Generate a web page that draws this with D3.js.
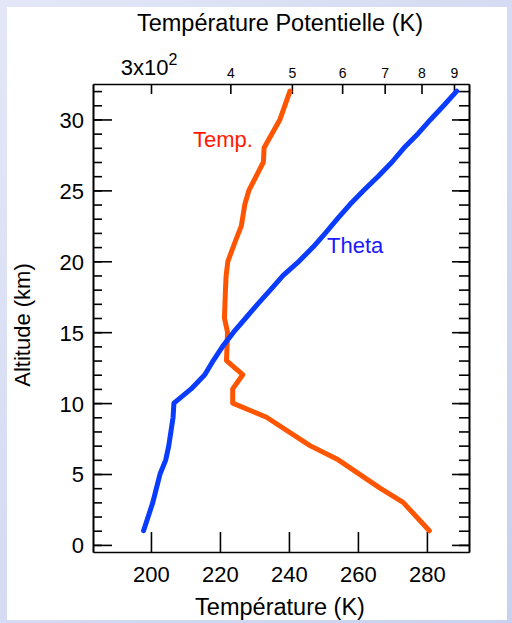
<!DOCTYPE html>
<html>
<head>
<meta charset="utf-8">
<script src="https://cdn.jsdelivr.net/npm/d3@7"></script>
<style>
  body { margin: 0; }
  svg { display: block; font-family: "Liberation Sans", Arial, sans-serif; }
</style>
</head>
<body>
<svg id="chart" width="512" height="623"></svg>
<script>
// temperature profile (K) against altitude (km)
const tempAlt = [1, 3, 4, 6, 7, 9, 10, 11, 12, 13, 15, 16, 18, 19, 20, 21.5, 22.5, 24, 25, 27, 28, 30, 32];
const tempK = [280.7, 273.1, 266.4, 254.3, 246.1, 233.5, 223.7, 223.7, 226.6, 221.9, 222.2, 221.3, 221.6, 221.8, 222.3, 224.6, 226.2, 227.2, 228.4, 232.6, 232.8, 237.4, 240.3];

// potential temperature (K) against altitude (km)
const thetaAlt = [1, 2, 3, 4, 5, 6, 7, 8, 9, 10, 11, 12, 13, 14, 15, 16, 17, 18, 19, 20, 21, 22, 23, 24, 25, 26, 27, 28, 29, 30, 31, 32];
const thetaK = [292, 297, 302, 306, 310, 316.5, 320, 322.5, 325, 326, 347, 364.6, 376, 389, 404.7, 423, 442, 463, 484.5, 513, 540, 565, 590, 617, 649, 684, 719, 751, 790, 827, 868, 909];

const tempTicks = [200, 220, 240, 260, 280];
const thetaTicks = [300, 400, 500, 600, 700, 800, 900];
const thetaLabels = ["", "4", "5", "6", "7", "8", "9"];

const svg = d3.select("#chart");

// page background and white panel
const grad = svg.append("defs")
  .append("linearGradient")
    .attr("id", "bg")
    .attr("x1", 0).attr("y1", 0).attr("x2", 1).attr("y2", 1);
grad.append("stop").attr("offset", "0%").attr("stop-color", "#e3e7f7");
grad.append("stop").attr("offset", "50%").attr("stop-color", "#d4dbf2");
grad.append("stop").attr("offset", "100%").attr("stop-color", "#c8d1ee");

svg.append("rect")
    .attr("width", 512).attr("height", 623)
    .attr("fill", "url(#bg)");
svg.append("rect")
    .attr("x", 7).attr("y", 7)
    .attr("width", 500).attr("height", 613)
    .attr("fill", "#fff");

const box = { left: 93, right: 469, top: 84, bottom: 552 };

const x = d3.scaleLinear().domain([183.2, 292.2]).range([box.left, box.right]);
const xTheta = d3.scaleLog().domain([243.1, 950.4]).range([box.left, box.right]);
const y = d3.scaleLinear().domain([-0.5, 32.5]).range([box.bottom, box.top]);

function styleAxis(g) {
  g.selectAll("line").attr("stroke", "#000").attr("stroke-width", 1.6);
  g.select(".domain").attr("stroke", "#000").attr("stroke-width", 1.6);
  g.selectAll("text").attr("fill", "#000");
}

// left axis: minor then major
svg.append("g")
    .attr("transform", `translate(${box.left},0)`)
    .call(d3.axisLeft(y).tickValues(d3.range(0, 33)).tickSize(-9).tickSizeOuter(0).tickFormat(""))
    .call(styleAxis);
svg.append("g")
    .attr("transform", `translate(${box.left},0)`)
    .call(d3.axisLeft(y).tickValues(d3.range(0, 31, 5)).tickSize(-19).tickSizeOuter(0).tickPadding(9))
    .call(styleAxis)
    .call(g => g.selectAll("text").attr("font-size", 22).attr("dy", "0.36em"));

// right axis
svg.append("g")
    .attr("transform", `translate(${box.right},0)`)
    .call(d3.axisRight(y).tickValues(d3.range(0, 33)).tickSize(-10).tickSizeOuter(0).tickFormat(""))
    .call(styleAxis);
svg.append("g")
    .attr("transform", `translate(${box.right},0)`)
    .call(d3.axisRight(y).tickValues(d3.range(0, 31, 5)).tickSize(-17).tickSizeOuter(0).tickFormat(""))
    .call(styleAxis);

// bottom axis
svg.append("g")
    .attr("transform", `translate(0,${box.bottom})`)
    .call(d3.axisBottom(x).tickValues(tempTicks).tickSize(-20).tickSizeOuter(0).tickPadding(14))
    .call(styleAxis)
    .call(g => g.selectAll("text").attr("font-size", 22).attr("dy", "0.71em"));

// top axis (log)
const topAxis = svg.append("g")
    .attr("transform", `translate(0,${box.top})`)
    .call(d3.axisTop(xTheta).tickValues(thetaTicks).tickSize(-10).tickSizeOuter(0)
      .tickPadding(6).tickFormat((d, i) => thetaLabels[i]))
    .call(styleAxis)
    .call(g => g.selectAll("text").attr("font-size", 14));

const lead = topAxis.append("text")
    .attr("x", xTheta(300) - 2)
    .attr("y", -9)
    .attr("text-anchor", "middle")
    .attr("font-size", 22)
    .attr("fill", "#000");
lead.append("tspan").text("3x10");
lead.append("tspan").attr("font-size", 16).attr("dy", -10).text("2");

// curves
const tempLine = d3.line()
    .x(d => x(d[1]))
    .y(d => y(d[0]));
const thetaLine = d3.line()
    .x(d => xTheta(d[1]))
    .y(d => y(d[0]));

svg.append("path")
    .datum(d3.zip(tempAlt, tempK))
    .attr("d", tempLine)
    .attr("fill", "none")
    .attr("stroke", "#ff5500")
    .attr("stroke-width", 5)
    .attr("stroke-linecap", "round")
    .attr("stroke-linejoin", "round");

svg.append("path")
    .datum(d3.zip(thetaAlt, thetaK))
    .attr("d", thetaLine)
    .attr("fill", "none")
    .attr("stroke", "#0a3cff")
    .attr("stroke-width", 5)
    .attr("stroke-linecap", "round")
    .attr("stroke-linejoin", "round");

// curve labels
svg.append("text")
    .attr("x", 193).attr("y", 147)
    .attr("font-size", 22)
    .attr("fill", "#ff1a00")
    .text("Temp.");
svg.append("text")
    .attr("x", 327).attr("y", 253)
    .attr("font-size", 22)
    .attr("fill", "#1a1aff")
    .text("Theta");

// axis titles
svg.append("text")
    .attr("x", 280).attr("y", 31)
    .attr("text-anchor", "middle")
    .attr("font-size", 23.5)
    .text("Température Potentielle (K)");
svg.append("text")
    .attr("x", 280).attr("y", 615)
    .attr("text-anchor", "middle")
    .attr("font-size", 23.5)
    .text("Température (K)");
svg.append("text")
    .attr("transform", "translate(30,325) rotate(-90)")
    .attr("text-anchor", "middle")
    .attr("font-size", 22)
    .text("Altitude (km)");
</script>
</body>
</html>
